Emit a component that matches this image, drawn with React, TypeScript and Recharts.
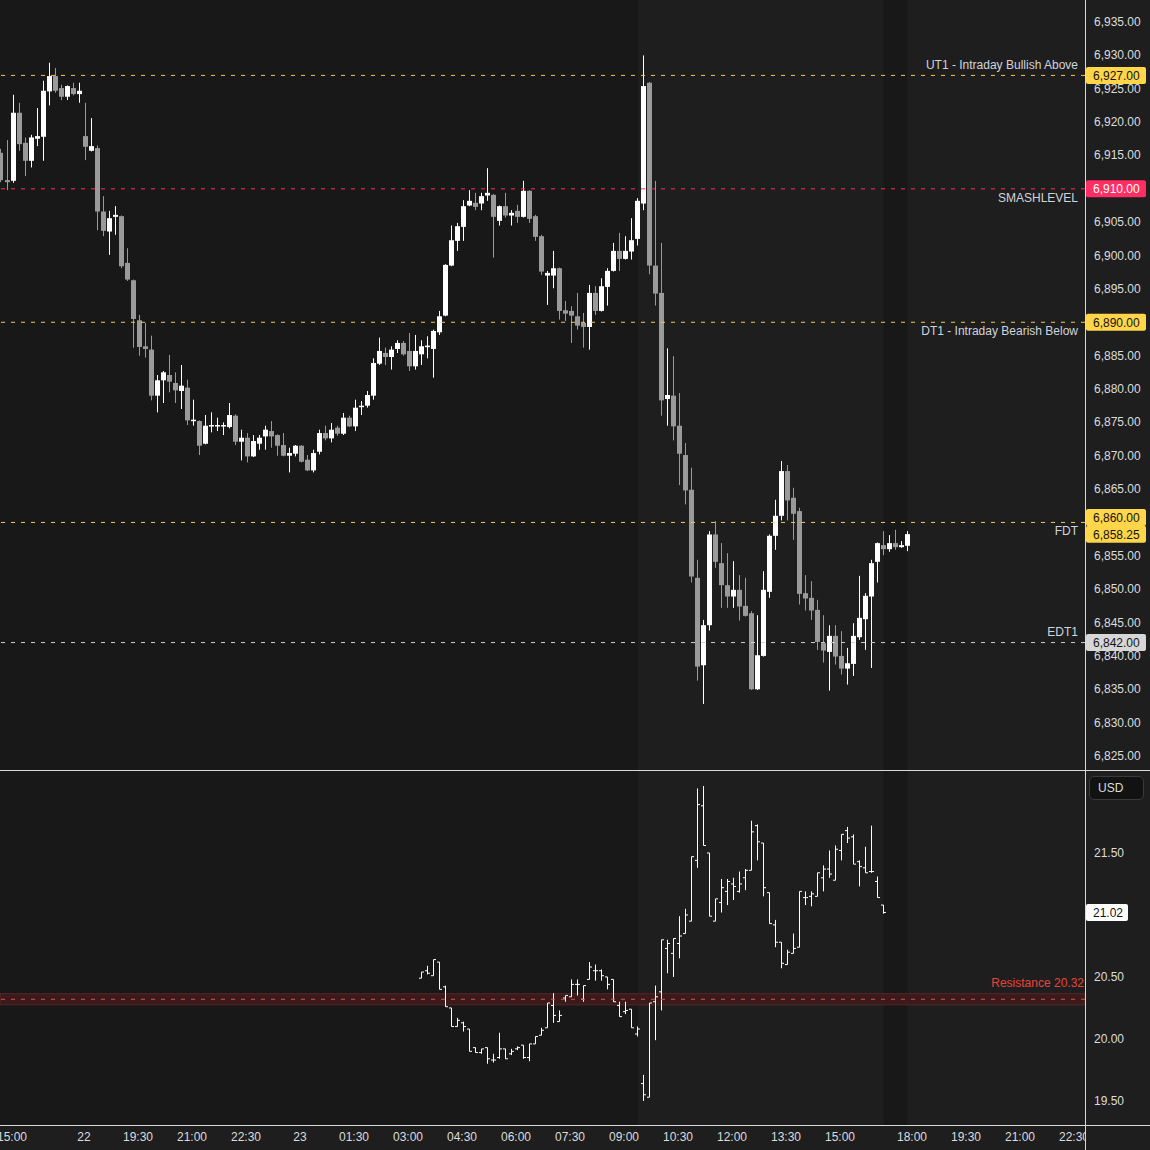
import React from 'react'
import { ComposedChart, Bar, XAxis, YAxis, ReferenceLine, ReferenceArea } from 'recharts'

// ES 10-minute candles, bar index 0 = 14:40 (day 21)
const esOpen = [
  6915.4, 6911.3, 6911.2, 6921.4, 6916.9, 6914.2, 6917.5, 6917.8, 6924.6, 6926.9, 6925.1, 6923.8, 6925.1, 6924.2,
  6917.9, 6915.7, 6916.1, 6906.6, 6903.6, 6905.8, 6905.9, 6898.9, 6896.3, 6890.3, 6886.4, 6885.9, 6879.0, 6881.3,
  6882.1, 6880.9, 6879.7, 6880.2, 6875.2, 6875.2, 6871.8, 6874.4, 6874.4, 6874.4, 6874.3, 6876.0, 6872.1, 6872.7,
  6869.9, 6871.8, 6872.9, 6873.7, 6873.1, 6871.6, 6870.0, 6870.3, 6871.5, 6869.4, 6867.8, 6870.6, 6873.4, 6872.6,
  6874.2, 6873.3, 6875.7, 6874.4, 6877.3, 6877.5, 6879.0, 6883.8, 6885.4, 6884.8, 6886.0, 6886.9, 6885.7, 6883.4,
  6885.2, 6886.3, 6886.0, 6888.5, 6891.0, 6898.5, 6902.2, 6904.3, 6907.5, 6907.9, 6907.8, 6909.0, 6909.1, 6905.2,
  6907.4, 6906.0, 6906.7, 6905.8, 6909.7, 6905.9, 6902.9, 6897.0, 6897.0, 6898.1, 6891.8, 6891.7, 6890.9, 6889.9,
  6889.3, 6894.4, 6891.7, 6895.3, 6897.7, 6900.7, 6899.5, 6900.6, 6902.5, 6907.8, 6925.9, 6898.5, 6894.4, 6878.5,
  6879.0, 6874.5, 6870.1, 6864.9, 6851.7, 6838.6, 6844.6, 6858.2, 6853.9, 6850.6, 6848.9, 6849.9, 6847.5, 6846.4,
  6835.0, 6840.0, 6849.6, 6858.0, 6861.0, 6867.7, 6863.7, 6861.7, 6849.4, 6848.7, 6846.9, 6841.9, 6840.6, 6843.0,
  6840.0, 6838.1, 6838.8, 6842.8, 6845.5, 6848.9, 6854.1, 6856.6, 6856.0, 6856.9, 6856.3, 6856.5,
]
const esHigh = [
  6916.0, 6917.3, 6924.1, 6922.9, 6917.7, 6918.1, 6922.1, 6926.2, 6928.9, 6928.1, 6925.6, 6925.5, 6925.9, 6925.9,
  6922.9, 6920.6, 6916.5, 6908.9, 6906.7, 6907.4, 6906.0, 6901.1, 6896.4, 6891.1, 6889.9, 6888.0, 6882.1, 6882.7,
  6885.1, 6882.5, 6883.6, 6881.4, 6878.4, 6875.3, 6876.1, 6876.5, 6875.7, 6875.0, 6877.9, 6876.2, 6873.9, 6873.4,
  6873.1, 6873.1, 6874.5, 6875.2, 6873.2, 6873.4, 6871.2, 6871.6, 6871.6, 6870.1, 6870.9, 6873.9, 6874.5, 6874.9,
  6874.5, 6876.4, 6876.0, 6878.4, 6878.2, 6879.7, 6884.6, 6887.7, 6886.2, 6886.4, 6887.3, 6887.2, 6888.4, 6888.1,
  6887.3, 6887.9, 6888.9, 6891.7, 6898.7, 6904.5, 6904.9, 6908.3, 6909.8, 6909.4, 6909.4, 6913.1, 6909.2, 6907.5,
  6909.4, 6906.8, 6907.6, 6911.2, 6909.8, 6906.1, 6903.1, 6897.7, 6900.7, 6898.2, 6893.2, 6892.4, 6894.4, 6891.4,
  6895.6, 6895.4, 6896.6, 6898.1, 6901.9, 6903.4, 6902.9, 6905.6, 6908.6, 6930.0, 6926.0, 6911.2, 6901.9, 6886.1,
  6884.9, 6879.4, 6871.9, 6868.2, 6854.4, 6845.4, 6858.7, 6860.2, 6856.9, 6855.4, 6854.2, 6852.1, 6851.7, 6846.7,
  6846.1, 6852.7, 6858.2, 6863.4, 6869.2, 6868.6, 6865.2, 6862.2, 6852.1, 6851.2, 6848.4, 6846.1, 6844.6, 6844.6,
  6843.7, 6841.2, 6844.9, 6852.0, 6849.4, 6854.4, 6857.0, 6858.7, 6858.1, 6858.9, 6857.2, 6858.7,
]
const esLow = [
  6911.0, 6909.8, 6910.9, 6915.7, 6911.9, 6913.2, 6916.4, 6914.2, 6922.5, 6924.4, 6923.3, 6923.3, 6924.0, 6922.9,
  6914.3, 6915.6, 6903.8, 6902.9, 6900.1, 6903.1, 6898.1, 6896.2, 6886.2, 6885.0, 6884.7, 6878.3, 6876.5, 6877.9,
  6879.5, 6877.9, 6877.0, 6874.6, 6874.5, 6870.1, 6871.7, 6873.5, 6873.7, 6873.1, 6874.1, 6871.6, 6869.3, 6869.0,
  6869.8, 6870.9, 6870.9, 6871.2, 6870.0, 6869.9, 6867.5, 6869.9, 6869.0, 6867.7, 6867.5, 6870.2, 6872.3, 6872.0,
  6873.0, 6873.1, 6874.3, 6873.7, 6876.1, 6877.2, 6878.4, 6883.6, 6883.6, 6882.9, 6885.4, 6885.0, 6882.7, 6882.9,
  6883.6, 6884.6, 6881.7, 6888.1, 6890.9, 6898.4, 6900.7, 6902.2, 6907.4, 6906.8, 6906.8, 6908.2, 6899.7, 6904.5,
  6905.7, 6904.5, 6904.9, 6905.7, 6904.9, 6902.2, 6897.1, 6892.6, 6895.1, 6890.4, 6890.2, 6886.9, 6888.9, 6886.2,
  6885.9, 6891.1, 6891.6, 6892.5, 6897.6, 6897.7, 6899.4, 6899.4, 6901.5, 6906.8, 6897.2, 6892.5, 6876.0, 6874.5,
  6872.3, 6865.6, 6862.7, 6851.0, 6836.3, 6832.8, 6843.8, 6853.2, 6847.2, 6847.2, 6847.2, 6845.3, 6845.9, 6834.9,
  6834.9, 6839.9, 6848.7, 6855.9, 6860.3, 6860.3, 6857.4, 6847.7, 6846.8, 6845.4, 6840.9, 6839.0, 6834.8, 6838.7,
  6837.2, 6835.7, 6837.0, 6842.4, 6840.9, 6838.2, 6851.0, 6855.1, 6855.6, 6855.9, 6856.2, 6855.7,
]
const esClose = [
  6911.3, 6911.0, 6921.4, 6916.7, 6914.2, 6917.7, 6917.9, 6924.7, 6926.9, 6924.7, 6923.8, 6925.4, 6924.2, 6924.7,
  6916.3, 6916.4, 6906.6, 6903.7, 6905.6, 6906.1, 6898.4, 6896.4, 6890.5, 6886.3, 6886.0, 6879.0, 6881.3, 6882.5,
  6881.1, 6879.8, 6880.5, 6875.3, 6875.4, 6871.5, 6874.5, 6874.6, 6874.6, 6874.6, 6876.1, 6872.1, 6872.7, 6869.9,
  6872.2, 6872.7, 6873.9, 6872.9, 6871.5, 6870.0, 6870.4, 6871.5, 6869.1, 6867.8, 6870.4, 6873.4, 6872.6, 6873.9,
  6873.3, 6875.7, 6874.4, 6877.2, 6877.5, 6879.1, 6883.9, 6885.7, 6884.8, 6885.9, 6886.9, 6885.2, 6883.4, 6885.7,
  6886.4, 6886.5, 6888.7, 6890.9, 6898.6, 6902.3, 6904.4, 6907.4, 6908.2, 6907.3, 6908.9, 6909.4, 6905.8, 6907.4,
  6906.0, 6906.4, 6905.8, 6909.7, 6905.5, 6902.8, 6897.6, 6897.4, 6898.1, 6891.7, 6891.3, 6891.0, 6889.5, 6889.3,
  6894.4, 6891.7, 6895.4, 6897.7, 6900.7, 6899.5, 6900.7, 6902.3, 6908.2, 6925.4, 6898.5, 6894.3, 6878.3, 6879.1,
  6874.4, 6870.3, 6864.8, 6851.9, 6838.4, 6844.6, 6858.2, 6854.1, 6850.6, 6848.9, 6849.9, 6847.4, 6846.0, 6835.0,
  6840.1, 6849.9, 6858.0, 6861.0, 6867.7, 6863.3, 6861.3, 6849.3, 6848.6, 6846.8, 6842.1, 6840.8, 6843.0, 6839.9,
  6838.1, 6838.9, 6843.0, 6845.7, 6849.0, 6853.9, 6856.9, 6856.0, 6856.9, 6856.3, 6856.6, 6858.25,
]

// lower pane OHLC bars, first bar at index 70 (03:20)
const vixStart = 70
const vixOpen = [
  20.49, 20.55, 20.51, 20.62, 20.42, 20.25, 20.10, 20.13, 20.08, 19.93, 19.89, 19.93, 19.83, 19.85, 19.92, 19.88,
  19.92, 19.95, 19.85, 19.96, 20.03, 20.09, 20.27, 20.14, 20.33, 20.34, 20.44, 20.32, 20.48, 20.55, 20.55, 20.50,
  20.48, 20.27, 20.22, 20.24, 20.04, 19.64, 19.53, 20.30, 20.38, 20.73, 20.69, 20.77, 20.85, 20.95, 21.44, 21.88,
  21.50, 20.95, 21.10, 21.19, 21.25, 21.19, 21.30, 21.36, 21.72, 21.58, 21.18, 20.92, 20.78, 20.60, 20.69, 20.74,
  21.14, 21.15, 21.15, 21.30, 21.37, 21.28, 21.52, 21.68, 21.63, 21.43, 21.38, 21.35, 21.27, 21.08,
]
const vixHigh = [
  20.54, 20.59, 20.64, 20.62, 20.43, 20.25, 20.17, 20.14, 20.08, 19.93, 19.92, 19.93, 19.88, 20.05, 19.92, 19.92,
  19.94, 19.95, 19.96, 20.02, 20.09, 20.29, 20.37, 20.23, 20.35, 20.48, 20.48, 20.43, 20.62, 20.60, 20.56, 20.50,
  20.48, 20.30, 20.30, 20.24, 20.10, 19.71, 20.29, 20.43, 20.80, 20.80, 20.81, 20.99, 21.05, 21.47, 22.02, 22.04,
  21.50, 21.13, 21.29, 21.29, 21.30, 21.35, 21.37, 21.76, 21.73, 21.58, 21.18, 20.96, 20.78, 20.72, 20.85, 21.19,
  21.19, 21.19, 21.34, 21.40, 21.52, 21.56, 21.65, 21.71, 21.65, 21.44, 21.55, 21.72, 21.31, 21.08,
]
const vixLow = [
  20.49, 20.52, 20.51, 20.40, 20.26, 20.10, 20.10, 20.06, 19.90, 19.89, 19.88, 19.80, 19.81, 19.84, 19.84, 19.87,
  19.91, 19.84, 19.82, 19.96, 20.03, 20.09, 20.13, 20.14, 20.30, 20.34, 20.35, 20.30, 20.48, 20.47, 20.47, 20.40,
  20.30, 20.18, 20.20, 20.09, 20.02, 19.50, 19.53, 19.99, 20.23, 20.53, 20.50, 20.65, 20.85, 20.95, 21.38, 21.56,
  20.99, 20.95, 21.02, 21.08, 21.12, 21.18, 21.20, 21.36, 21.44, 21.15, 20.93, 20.74, 20.57, 20.60, 20.69, 20.74,
  21.08, 21.07, 21.15, 21.19, 21.30, 21.28, 21.44, 21.58, 21.41, 21.23, 21.34, 21.34, 21.14, 21.01,
]
const vixClose = [
  20.54, 20.53, 20.64, 20.40, 20.26, 20.10, 20.15, 20.10, 19.90, 19.89, 19.92, 19.84, 19.83, 19.92, 19.84, 19.90,
  19.93, 19.85, 19.96, 20.02, 20.07, 20.29, 20.19, 20.19, 20.35, 20.44, 20.44, 20.43, 20.58, 20.55, 20.51, 20.44,
  20.30, 20.18, 20.23, 20.09, 20.08, 19.55, 20.29, 20.34, 20.80, 20.77, 20.81, 20.83, 21.00, 21.47, 21.89, 21.56,
  20.99, 21.13, 21.22, 21.27, 21.23, 21.25, 21.36, 21.67, 21.59, 21.22, 20.93, 20.78, 20.61, 20.70, 20.73, 21.19,
  21.14, 21.17, 21.34, 21.37, 21.33, 21.53, 21.65, 21.62, 21.41, 21.39, 21.34, 21.35, 21.14, 21.02,
]

const timeTickIdx = [2, 14, 23, 32, 41, 50, 59, 68, 77, 86, 95, 104, 113, 122, 131, 140, 152, 161, 170, 179]
const timeTickText = ['15:00', '22', '19:30', '21:00', '22:30', '23', '01:30', '03:00', '04:30', '06:00', '07:30',
  '09:00', '10:30', '12:00', '13:30', '15:00', '18:00', '19:30', '21:00', '22:30']

const priceTicks = [6825, 6830, 6835, 6840, 6845, 6850, 6855, 6865, 6870, 6875, 6880, 6885, 6895, 6900, 6905,
  6915, 6920, 6925, 6930, 6935]
const vixTicks = [19.5, 20.0, 20.5, 21.5]

const levelPrices = [6927, 6910, 6890, 6860, 6842]
const levelNames = ['UT1 - Intraday Bullish Above', 'SMASHLEVEL', 'DT1 - Intraday Bearish Below', 'FDT', 'EDT1']
const lastPrice = 6858.25
const resistance = 20.32
const lastVix = 21.02

// styles per level (line colour, tag colours, label offset, tag offset)
const levelStyle = [
  { line: '#f2c94c', bg: '#ffd54a', fg: '#131313', dy: -10, tdy: 0 },
  { line: '#ff2e63', bg: '#ff2e63', fg: '#ffffff', dy: 9, tdy: 0 },
  { line: '#f2c94c', bg: '#ffd54a', fg: '#131313', dy: 9, tdy: 0 },
  { line: '#f2c94c', bg: '#ffd54a', fg: '#131313', dy: 9, tdy: -5 },
  { line: '#d0d0d0', bg: '#d6d6d6', fg: '#131313', dy: -11, tdy: 0 },
]

const esData = esOpen.map((o, i) => ({ i, o, h: esHigh[i], l: esLow[i], c: esClose[i] }))
const vixData = vixOpen.map((o, k) => ({ i: vixStart + k, o, h: vixHigh[k], l: vixLow[k], c: vixClose[k] }))

const X_DOMAIN: [number, number] = [0, 180.83]
const FONT = '"Liberation Sans", Arial, sans-serif'
const AXIS_TEXT = '#dcdcdc'

const fmt = (v: number) =>
  v.toLocaleString('en-US', { minimumFractionDigits: 2, maximumFractionDigits: 2 })

const geom = (props: any) => {
  const { x, y, width, height } = props
  const d = props.payload || props
  const top = Math.min(y, y + height)
  const h = Math.abs(height)
  const k = d.h - d.l > 0 ? h / (d.h - d.l) : 0
  const cx = Math.round(x + width / 2)
  return { d, top, h, cx, yo: top + (d.h - d.o) * k, yc: top + (d.h - d.c) * k }
}

const Candle = (props: any) => {
  const { d, top, h, cx, yo, yc } = geom(props)
  const col = d.c >= d.o ? '#ffffff' : '#9a9a9a'
  const bt = Math.min(yo, yc)
  const bh = Math.max(1.5, Math.abs(yc - yo))
  return (
    <g>
      <line x1={cx + 0.5} x2={cx + 0.5} y1={top} y2={top + h} stroke={col} strokeWidth={1} />
      <rect x={cx - 2} y={bt} width={5} height={bh} fill={col} />
    </g>
  )
}

const OhlcBar = (props: any) => {
  const { top, h, cx, yo, yc } = geom(props)
  const lx = cx + 0.5
  return (
    <g stroke="#ffffff" strokeWidth={1}>
      <line x1={lx} x2={lx} y1={top} y2={top + h} />
      <line x1={lx - 2.5} x2={lx} y1={yo} y2={yo} />
      <line x1={lx} x2={lx + 2.5} y1={yc} y2={yc} />
    </g>
  )
}

const LevelLabel = (props: any) => {
  const { viewBox, name, tag, bg, fg, dy, tdy, nameColor } = props
  const right = viewBox.x + viewBox.width
  const y = viewBox.y
  return (
    <g fontFamily={FONT} fontSize={12}>
      {name ? (
        <text x={right - (nameColor ? 1 : 7)} y={y + dy} textAnchor="end" dominantBaseline="central" fill={nameColor || '#d1d4dc'}>
          {name}
        </text>
      ) : null}
      {tag ? (
        <g>
          <rect x={right + 1} y={y + tdy - 8.5} width={tag.length > 5 ? 60 : 42} height={17} rx={2} fill={bg} />
          <text x={right + 8} y={y + tdy + 0.5} dominantBaseline="central" fill={fg}>{tag}</text>
        </g>
      ) : null}
    </g>
  )
}

const PriceTick = (props: any) => {
  const { x, y, payload, digits } = props
  const v = payload.value
  return (
    <text x={x} y={y} dominantBaseline="central" fill={AXIS_TEXT} fontSize={12} fontFamily={FONT}>
      {digits ? v.toFixed(2) : fmt(v)}
    </text>
  )
}

const TimeTick = (props: any) => {
  const { x, y, payload } = props
  const label = timeTickText[timeTickIdx.indexOf(payload.value)]
  return (
    <g clipPath="url(#timeClip)">
      <text x={x} y={y + 12} textAnchor="middle" dominantBaseline="central" fill={AXIS_TEXT} fontSize={12} fontFamily={FONT}>
        {label}
      </text>
    </g>
  )
}

const App = () => {
  return (
    <div style={{ position: 'relative', width: 1150, height: 1150, background: '#1e1e1e', overflow: 'hidden', fontFamily: FONT }}>
      <style>{'body{margin:0;background:#1e1e1e}'}</style>
      <div style={{ position: 'absolute', left: 0, top: 0 }}>
        <ComposedChart width={1150} height={770} data={esData} margin={{ top: 0, right: 0, bottom: 0, left: 0 }}>
          <ReferenceArea x1={0} x2={106.3} fill="#181818" fillOpacity={1} stroke="none" ifOverflow="hidden" />
          <ReferenceArea x1={147.3} x2={151.2} fill="#181818" fillOpacity={1} stroke="none" ifOverflow="hidden" />
          <XAxis dataKey="i" type="number" domain={X_DOMAIN} allowDataOverflow hide />
          <YAxis
            orientation="right"
            type="number"
            width={65}
            domain={[6822.9, 6938.3]}
            allowDataOverflow
            ticks={priceTicks}
            interval={0}
            axisLine={false}
            tickLine={false}
            tickSize={0}
            tickMargin={9}
            tick={<PriceTick />}
          />
          <Bar dataKey={(d: any) => [d.l, d.h]} barSize={5} shape={(p: any) => <Candle {...p} />} isAnimationActive={false} />
          {levelPrices.map((p, k) => (
            <ReferenceLine
              key={p}
              y={p}
              stroke={levelStyle[k].line}
              strokeDasharray="4 6"
              strokeWidth={1}
              label={
                <LevelLabel
                  name={levelNames[k]}
                  tag={fmt(p)}
                  bg={levelStyle[k].bg}
                  fg={levelStyle[k].fg}
                  dy={levelStyle[k].dy}
                  tdy={levelStyle[k].tdy}
                />
              }
            />
          ))}
          <ReferenceLine
            y={lastPrice}
            stroke="none"
            label={<LevelLabel tag={fmt(lastPrice)} bg="#ffd54a" fg="#131313" dy={0} tdy={0} />}
          />
        </ComposedChart>
      </div>
      <div style={{ position: 'absolute', left: 0, top: 770 }}>
        <ComposedChart width={1150} height={380} data={vixData} margin={{ top: 0, right: 0, bottom: 0, left: 0 }}>
          <defs>
            <clipPath id="timeClip">
              <rect x={0} y={0} width={1085} height={380} />
            </clipPath>
          </defs>
          <ReferenceArea x1={0} x2={106.3} fill="#181818" fillOpacity={1} stroke="none" ifOverflow="hidden" />
          <ReferenceArea x1={147.3} x2={151.2} fill="#181818" fillOpacity={1} stroke="none" ifOverflow="hidden" />
          <XAxis
            dataKey="i"
            type="number"
            domain={X_DOMAIN}
            allowDataOverflow
            height={25}
            ticks={timeTickIdx}
            interval={0}
            axisLine={false}
            tickLine={false}
            tickSize={0}
            tickMargin={0}
            tick={<TimeTick />}
          />
          <YAxis
            orientation="right"
            type="number"
            width={65}
            domain={[19.306, 22.169]}
            allowDataOverflow
            ticks={vixTicks}
            interval={0}
            axisLine={false}
            tickLine={false}
            tickSize={0}
            tickMargin={9}
            tick={<PriceTick digits />}
          />
          <ReferenceArea y1={resistance - 0.045} y2={resistance + 0.045} fill="#3a1a1a" fillOpacity={1} stroke="#5a2626" strokeWidth={1} />
          <ReferenceLine
            y={resistance}
            stroke="#e05050"
            strokeDasharray="4 6"
            label={<LevelLabel name={`Resistance ${resistance.toFixed(2)}`} nameColor="#e8433c" dy={-16} tdy={0} />}
          />
          <Bar dataKey={(d: any) => [d.l, d.h]} barSize={5} shape={(p: any) => <OhlcBar {...p} />} isAnimationActive={false} />
          <ReferenceLine
            y={lastVix}
            stroke="none"
            label={<LevelLabel tag={lastVix.toFixed(2)} bg="#ffffff" fg="#131313" dy={0} tdy={0} />}
          />
        </ComposedChart>
      </div>
      <div style={{ position: 'absolute', left: 0, top: 770, width: 1150, height: 1, background: '#d9d9d9' }} />
      <div style={{ position: 'absolute', left: 0, top: 1125, width: 1150, height: 1, background: '#d9d9d9' }} />
      <div style={{ position: 'absolute', left: 1085, top: 0, width: 1, height: 1150, background: '#d9d9d9' }} />
      <div
        style={{
          position: 'absolute', left: 1089, top: 776, width: 55, height: 24, boxSizing: 'border-box',
          border: '1px solid #3a3a3a', borderRadius: 5, background: '#121212', color: AXIS_TEXT,
          fontSize: 12, lineHeight: '22px', paddingLeft: 8,
        }}
      >
        USD
      </div>
    </div>
  )
}

export default App
